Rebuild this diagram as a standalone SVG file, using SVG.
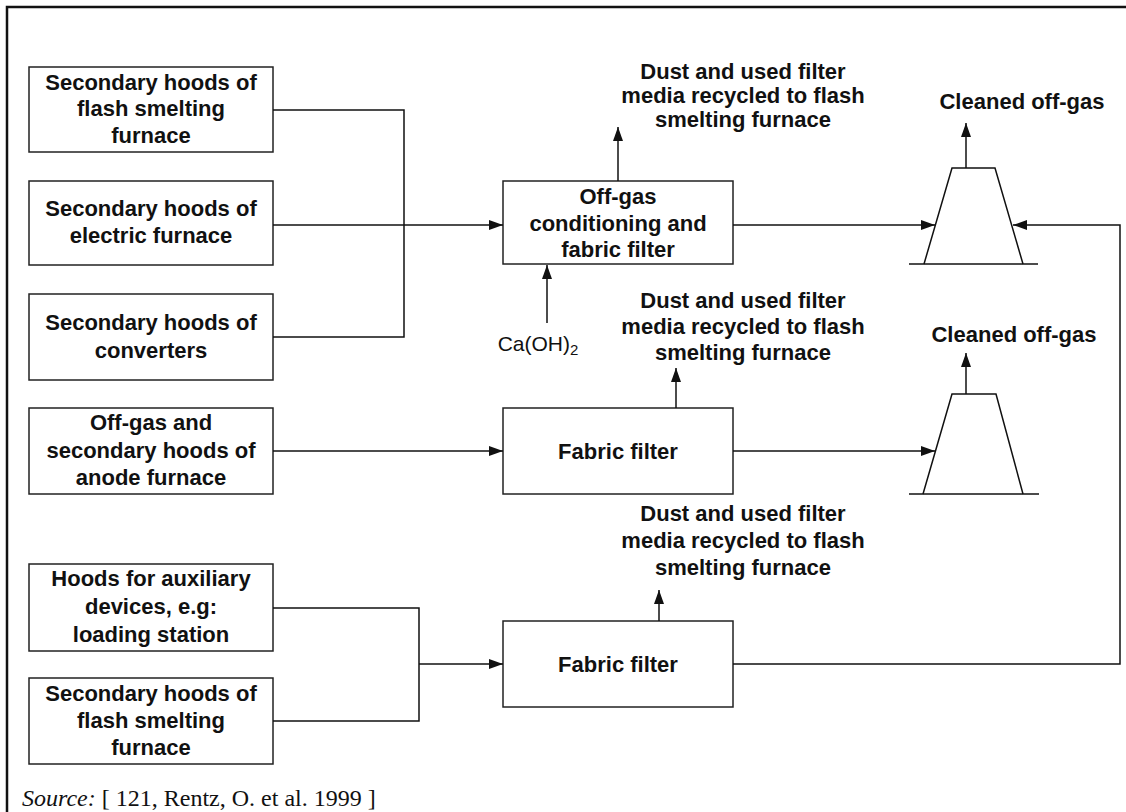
<svg xmlns="http://www.w3.org/2000/svg" width="1126" height="812" viewBox="0 0 1126 812">
<style>
.box{fill:#fff;stroke:#222;stroke-width:1.5}
.ln{fill:none;stroke:#111;stroke-width:1.5}
.arr{fill:none;stroke:#111;stroke-width:1.5;marker-end:url(#ah)}
.t{font-family:"Liberation Sans",Arial,sans-serif;font-weight:bold;font-size:22px;fill:#111;text-anchor:middle}
.r{font-family:"Liberation Sans",Arial,sans-serif;font-size:21px;fill:#111;text-anchor:middle}
.src{font-family:"Liberation Serif","Times New Roman",serif;font-size:24px;fill:#111}
</style>
<defs>
<marker id="ah" markerUnits="userSpaceOnUse" markerWidth="16" markerHeight="12" refX="14" refY="5" orient="auto">
<path d="M0,0 L14,5 L0,10 z" fill="#111"/>
</marker>
</defs>
<rect width="1126" height="812" fill="#fff"/>
<path d="M7,812 V7 H1126" fill="none" stroke="#111" stroke-width="2.5"/>

<g id="box-flash1"><rect class="box" x="29" y="67" width="244" height="85"/>
<text class="t" x="151" y="90">Secondary hoods of</text><text class="t" x="151" y="116">flash smelting</text><text class="t" x="151" y="143">furnace</text></g>
<g id="box-electric"><rect class="box" x="29" y="181" width="244" height="84"/>
<text class="t" x="151" y="216">Secondary hoods of</text><text class="t" x="151" y="243">electric furnace</text></g>
<g id="box-converters"><rect class="box" x="29" y="294" width="244" height="86"/>
<text class="t" x="151" y="330">Secondary hoods of</text><text class="t" x="151" y="358">converters</text></g>
<g id="box-anode"><rect class="box" x="29" y="408" width="244" height="86"/>
<text class="t" x="151" y="430">Off-gas and</text><text class="t" x="151" y="458">secondary hoods of</text><text class="t" x="151" y="485">anode furnace</text></g>
<g id="box-aux"><rect class="box" x="29" y="564" width="244" height="87"/>
<text class="t" x="151" y="586">Hoods for auxiliary</text><text class="t" x="151" y="614">devices, e.g:</text><text class="t" x="151" y="642">loading station</text></g>
<g id="box-flash2"><rect class="box" x="29" y="678" width="244" height="86"/>
<text class="t" x="151" y="701">Secondary hoods of</text><text class="t" x="151" y="728">flash smelting</text><text class="t" x="151" y="755">furnace</text></g>

<g id="box-offgas"><rect class="box" x="503" y="181" width="230" height="83"/>
<text class="t" x="618" y="204">Off-gas</text><text class="t" x="618" y="231">conditioning and</text><text class="t" x="618" y="257">fabric filter</text></g>
<g id="box-ff1"><rect class="box" x="503" y="408" width="230" height="86"/>
<text class="t" x="618" y="459">Fabric filter</text></g>
<g id="box-ff2"><rect class="box" x="503" y="621" width="230" height="86"/>
<text class="t" x="618" y="672">Fabric filter</text></g>

<g id="stack1"><polyline class="ln" points="924,264 952,168 995,168 1023,264"/><line class="ln" x1="909" y1="264" x2="1038" y2="264"/></g>
<g id="stack2"><polyline class="ln" points="923,494 952,394 996,394 1023,494"/><line class="ln" x1="909" y1="494" x2="1039" y2="494"/></g>

<g id="labels">
<text class="t" x="743" y="79">Dust and used filter</text><text class="t" x="743" y="103">media recycled to flash</text><text class="t" x="743" y="127">smelting furnace</text>
<text class="t" x="743" y="308">Dust and used filter</text><text class="t" x="743" y="334">media recycled to flash</text><text class="t" x="743" y="360">smelting furnace</text>
<text class="t" x="743" y="521">Dust and used filter</text><text class="t" x="743" y="548">media recycled to flash</text><text class="t" x="743" y="575">smelting furnace</text>
<text class="t" x="1022" y="109">Cleaned off-gas</text>
<text class="t" x="1014" y="342">Cleaned off-gas</text>
<text class="r" x="538" y="351">Ca(OH)<tspan font-size="15" dy="4">2</tspan></text>
</g>

<g id="connectors">
<polyline class="ln" points="273,110 404,110 404,337 273,337"/>
<line class="arr" x1="273" y1="225" x2="503" y2="225"/>
<line class="arr" x1="547" y1="323" x2="547" y2="265"/>
<line class="arr" x1="618" y1="181" x2="618" y2="127"/>
<line class="arr" x1="733" y1="225" x2="935" y2="225"/>
<line class="arr" x1="966" y1="168" x2="966" y2="123"/>
<line class="arr" x1="273" y1="451" x2="503" y2="451"/>
<line class="arr" x1="676" y1="408" x2="676" y2="368"/>
<line class="arr" x1="733" y1="451" x2="935" y2="451"/>
<line class="arr" x1="966" y1="394" x2="966" y2="353"/>
<polyline class="ln" points="273,608 419,608 419,721 273,721"/>
<line class="arr" x1="419" y1="664" x2="503" y2="664"/>
<line class="arr" x1="659" y1="621" x2="659" y2="590"/>
<polyline class="arr" points="733,664 1120,664 1120,225 1013,225"/>
</g>

<text class="src" x="22" y="806"><tspan font-style="italic">Source:</tspan> [ 121, Rentz, O. et al. 1999 ]</text>
</svg>
